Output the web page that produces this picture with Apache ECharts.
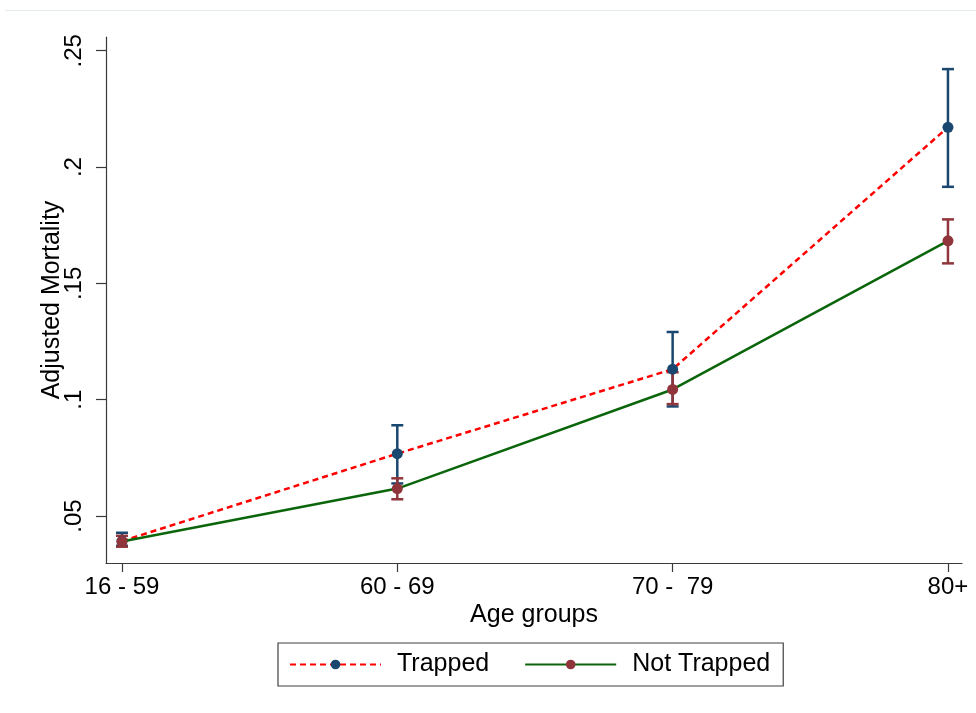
<!DOCTYPE html>
<html>
<head>
<meta charset="utf-8">
<script src="https://cdn.jsdelivr.net/npm/echarts@6/dist/echarts.min.js"></script>
<style>html,body{margin:0;padding:0;background:#fff;}#c{width:976px;height:713px;}</style>
</head>
<body>
<div id="c"></div>
<script>
const categories = ["16 - 59", "60 - 69", "70 -  79", "80+"];
const trappedMean = [0.0392, 0.0768, 0.1131, 0.2171];
const trappedLow  = [0.0372, 0.0640, 0.0971, 0.1915];
const trappedHigh = [0.0428, 0.0890, 0.1291, 0.2421];
const notTrappedMean = [0.0390, 0.0618, 0.1044, 0.1683];
const notTrappedLow  = [0.0368, 0.0572, 0.0981, 0.1586];
const notTrappedHigh = [0.0415, 0.0662, 0.1118, 0.1775];
const yTickValues = [0.05, 0.1, 0.15, 0.2, 0.25];
const yTickLabels = [".05", ".1", ".15", ".2", ".25"];

const FONT = '"Liberation Sans", Arial, sans-serif';
const AXIS_COLOR = '#3a3a3a';
const BLUE = '#1a476f', MAROON = '#90353b', GREEN = '#0b660b', RED = '#ff0000';

const chart = echarts.init(document.getElementById('c'), null, {renderer: 'canvas'});

function barData(low, high) {
  return categories.map((c, i) => [i, low[i], high[i]]);
}
function lineData(vals) {
  return categories.map((c, i) => [i, vals[i]]);
}
function errRender(color) {
  return function (params, api) {
    const x = api.value(0);
    const p1 = api.coord([x, api.value(1)]);
    const p2 = api.coord([x, api.value(2)]);
    const hw = 6;
    const st = {stroke: color, lineWidth: 2.5};
    return {
      type: 'group',
      children: [
        {type: 'line', shape: {x1: p1[0], y1: p1[1], x2: p2[0], y2: p2[1]}, style: st},
        {type: 'line', shape: {x1: p1[0] - hw, y1: p1[1], x2: p1[0] + hw, y2: p1[1]}, style: st},
        {type: 'line', shape: {x1: p2[0] - hw, y1: p2[1], x2: p2[0] + hw, y2: p2[1]}, style: st}
      ]
    };
  };
}

const option = {
  backgroundColor: '#fff',
  animation: false,
  textStyle: {fontFamily: FONT, color: '#000'},
  grid: {left: 106, right: 14, top: 37, bottom: 150, containLabel: false},
  xAxis: {
    type: 'value',
    min: -0.058, max: 3.051,
    name: 'Age groups',
    nameLocation: 'middle',
    nameGap: 40,
    nameMoveOverlap: false,
    nameTextStyle: {fontSize: 25, color: '#000', fontFamily: FONT},
    axisLine: {show: true, onZero: false, lineStyle: {color: AXIS_COLOR, width: 1.2}},
    axisTick: {show: true, length: 9, customValues: [0, 1, 2, 3], lineStyle: {color: AXIS_COLOR, width: 1.2}},
    axisLabel: {
      show: true, fontSize: 24, color: '#000', fontFamily: FONT, margin: 12,
      customValues: [0, 1, 2, 3],
      formatter: v => categories[Math.round(v)]
    },
    splitLine: {show: false}
  },
  yAxis: {
    type: 'value',
    min: 0.0298, max: 0.2559,
    name: 'Adjusted Mortality',
    nameLocation: 'middle',
    nameGap: 41,
    nameMoveOverlap: false,
    nameRotate: 90,
    nameTextStyle: {fontSize: 25, color: '#000', fontFamily: FONT},
    axisLine: {show: true, onZero: false, lineStyle: {color: AXIS_COLOR, width: 1.2}},
    axisTick: {show: true, length: 10, customValues: yTickValues, lineStyle: {color: AXIS_COLOR, width: 1.2}},
    axisLabel: {
      show: true, fontSize: 24, color: '#000', fontFamily: FONT, rotate: 90, margin: 20,
      customValues: yTickValues,
      formatter: v => {
        const i = yTickValues.findIndex(t => Math.abs(t - v) < 1e-6);
        return i >= 0 ? yTickLabels[i] : '';
      }
    },
    splitLine: {show: false}
  },
  legend: {
    data: ['Trapped', 'Not Trapped'],
    left: 278, top: 643,
    orient: 'horizontal',
    backgroundColor: '#fff',
    borderColor: '#404040',
    borderWidth: 1.2,
    borderRadius: 0,
    padding: [9, 13, 9, 11],
    itemWidth: 91,
    itemHeight: 12,
    itemGap: 35,
    textStyle: {fontSize: 25, color: '#000', fontFamily: FONT, padding: [0, 0, 0, 11]}
  },
  graphic: [
    {type: 'line', shape: {x1: 5, y1: 10.5, x2: 976, y2: 10.5}, style: {stroke: '#e3ecec', lineWidth: 1}}
  ],
  series: [
    {
      name: 'TrappedCI', type: 'custom', z: 2,
      renderItem: errRender(BLUE),
      encode: {x: 0, y: [1, 2]},
      data: barData(trappedLow, trappedHigh)
    },
    {
      name: 'NotTrappedCI', type: 'custom', z: 3,
      renderItem: errRender(MAROON),
      encode: {x: 0, y: [1, 2]},
      data: barData(notTrappedLow, notTrappedHigh)
    },
    {
      name: 'Trapped', type: 'line', z: 4,
      data: lineData(trappedMean),
      symbol: 'circle', symbolSize: 11,
      itemStyle: {color: BLUE},
      lineStyle: {color: RED, width: 2.5, type: [6, 4]}
    },
    {
      name: 'Not Trapped', type: 'line', z: 5,
      data: lineData(notTrappedMean),
      symbol: 'circle', symbolSize: 11,
      itemStyle: {color: MAROON},
      lineStyle: {color: GREEN, width: 2.5, type: 'solid'}
    }
  ]
};
chart.setOption(option);
</script>
</body>
</html>
